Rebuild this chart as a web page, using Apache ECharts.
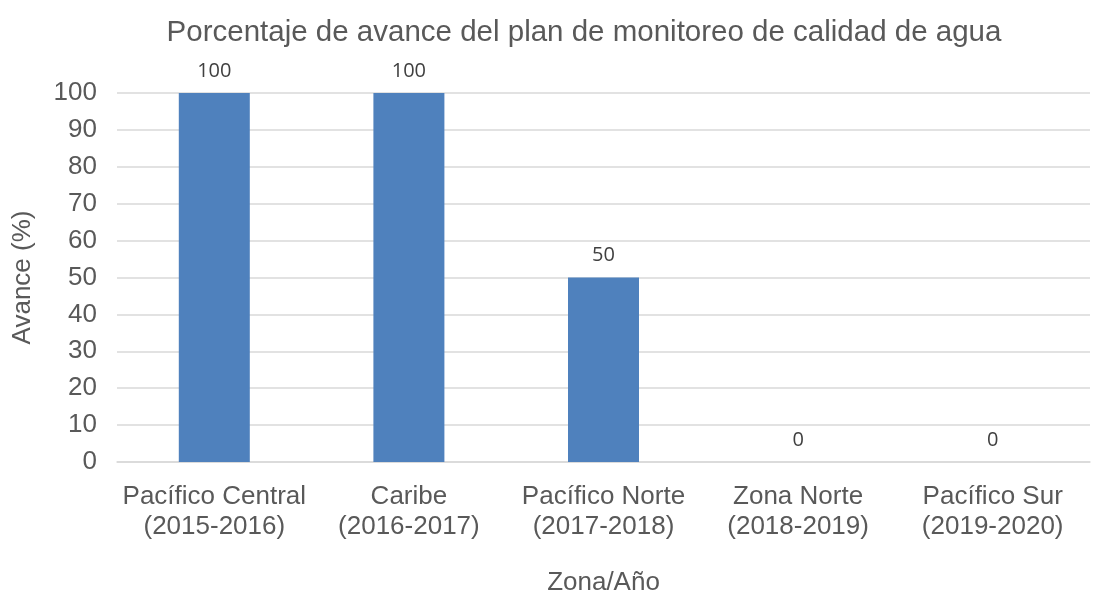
<!DOCTYPE html>
<html>
<head>
<meta charset="utf-8">
<script src="https://cdn.jsdelivr.net/npm/echarts@6/dist/echarts.min.js"></script>
<style>
	html, body { margin: 0; padding: 0; background: #fff; }
	#main { width: 1107px; height: 593px; }
</style>
</head>
<body>
<div id="main"></div>
<script>
var categories = ['Pacífico Central\n(2015-2016)', 'Caribe\n(2016-2017)', 'Pacífico Norte\n(2017-2018)', 'Zona Norte\n(2018-2019)', 'Pacífico Sur\n(2019-2020)'];
var avance = [100, 100, 50, 0, 0];

var myChart = echarts.init(document.getElementById('main'));
var option = {
	animation: false,
	title: {
		text: 'Porcentaje de avance del plan de monitoreo de calidad de agua',
		left: 579,
		textAlign: 'center',
		top: 13,
		textStyle: {
			fontFamily: 'Liberation Sans',
			fontSize: 29.5,
			fontWeight: 'normal',
			color: '#595959'
		}
	},
	grid: {
		left: 117,
		right: 17,
		top: 93,
		bottom: 131,
		containLabel: false,
		outerBoundsMode: 'none'
	},
	xAxis: {
		type: 'category',
		data: categories,
		name: 'Zona/Año',
		nameLocation: 'middle',
		nameGap: 108,
		nameTextStyle: { fontFamily: 'Liberation Sans', fontSize: 26, color: '#595959' },
		axisTick: { show: false },
		axisLine: { lineStyle: { color: '#d9d9d9', width: 1.5 } },
		axisLabel: {
			fontFamily: 'Liberation Sans',
			fontSize: 26,
			color: '#595959',
			lineHeight: 30,
			margin: 20,
			interval: 0
		}
	},
	yAxis: {
		type: 'value',
		min: 0,
		max: 100,
		interval: 10,
		name: 'Avance (%)',
		nameLocation: 'middle',
		nameGap: 81,
		nameTextStyle: { fontFamily: 'Liberation Sans', fontSize: 26, color: '#595959' },
		axisLine: { show: false },
		axisTick: { show: false },
		splitLine: { lineStyle: { color: '#d9d9d9', width: 1.5 } },
		axisLabel: {
			fontFamily: 'Liberation Sans',
			fontSize: 26,
			color: '#595959',
			margin: 20
		}
	},
	series: [{
		type: 'bar',
		data: avance,
		barWidth: 71,
		itemStyle: { color: '#4f81bd' },
		label: {
			show: true,
			position: 'top',
			distance: 12,
			fontFamily: 'Open Sans',
			fontSize: 20,
			color: '#404040'
		}
	}]
};
myChart.setOption(option);
</script>
</body>
</html>
